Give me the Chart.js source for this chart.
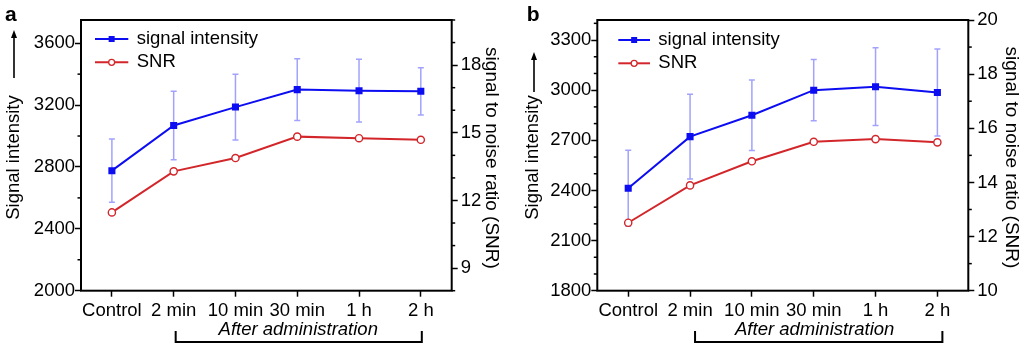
<!DOCTYPE html>
<html><head><meta charset="utf-8">
<script src="https://cdn.jsdelivr.net/npm/chart.js@4.4.0/dist/chart.umd.min.js"></script>
<style>
html,body{margin:0;padding:0;background:#fff;width:1024px;height:348px;overflow:hidden}
.p{position:absolute;top:0;width:512px;height:348px}
canvas{display:block}
</style></head><body>
<div class="p" style="left:0"><canvas id="ca" width="512" height="348"></canvas></div>
<div class="p" style="left:512px"><canvas id="cb" width="512" height="348"></canvas></div>
<script>
// ---- data ----
const categories = ['Control', '2 min', '10 min', '30 min', '1 h', '2 h'];
const aSignal    = [2776, 3068, 3187, 3300, 3293, 3289];
const aSignalErr = [205, 222, 212, 200, 203, 153];
const aSNR       = [11.47, 13.29, 13.88, 14.83, 14.76, 14.69];
const bSignal    = [2413, 2722, 2850, 3000, 3021, 2986];
const bSignalErr = [227, 253, 211, 183, 233, 260];
const bSNR       = [12.51, 13.89, 14.78, 15.50, 15.60, 15.48];
const legendLabels = ['signal intensity', 'SNR'];
const leftTitle = 'Signal intensity';
const rightTitle = 'signal to noise ratio (SNR)';
const groupTitle = 'After administration';

const FONT = "'Liberation Sans', Arial, Helvetica, sans-serif";
const FS = 18.5;
const BLUE = '#0d0df2';
const RED = '#d3262b';
const ERR = 'rgba(85,85,250,0.55)';

const panelPlugin = {
  id: 'panel',
  beforeDatasetsDraw(chart, args, o) {
    const ctx = chart.ctx, ys = chart.scales.y, meta = chart.getDatasetMeta(0);
    ctx.save();
    ctx.strokeStyle = ERR; ctx.lineWidth = 1.5;
    o.err.forEach((e, i) => {
      const v = o.sig[i], x = meta.data[i].x;
      const y1 = ys.getPixelForValue(v + e), y2 = ys.getPixelForValue(v - e);
      ctx.beginPath();
      ctx.moveTo(x, y1); ctx.lineTo(x, y2);
      ctx.moveTo(x - 3, y1); ctx.lineTo(x + 3, y1);
      ctx.moveTo(x - 3, y2); ctx.lineTo(x + 3, y2);
      ctx.stroke();
    });
    ctx.restore();
  },
  afterDraw(chart, args, o) {
    const ctx = chart.ctx, a = chart.chartArea;
    ctx.save();
    // frame
    ctx.strokeStyle = '#000'; ctx.lineWidth = 2;
    ctx.strokeRect(a.left, a.top, a.right - a.left, a.bottom - a.top);
    // minor ticks
    ctx.lineWidth = 1.5;
    const ly = chart.scales.y, ry = chart.scales.y1;
    ly.ticks.forEach(t => {
      if (t.value % o.lMajor !== 0) {
        const y = ly.getPixelForValue(t.value);
        ctx.beginPath(); ctx.moveTo(a.left - 3.5, y); ctx.lineTo(a.left, y); ctx.stroke();
      }
    });
    ry.ticks.forEach(t => {
      if (t.value % o.rMajor !== 0) {
        const y = ry.getPixelForValue(t.value);
        ctx.beginPath(); ctx.moveTo(a.right, y); ctx.lineTo(a.right + 3.5, y); ctx.stroke();
      }
    });
    // panel letter
    ctx.fillStyle = '#000';
    ctx.font = 'bold 21px ' + FONT;
    ctx.textAlign = 'left'; ctx.textBaseline = 'alphabetic';
    ctx.fillText(o.letter, o.letterX, 21);
    // left title
    ctx.font = FS + 'px ' + FONT;
    ctx.save();
    ctx.translate(o.ltX, o.ltY); ctx.rotate(-Math.PI / 2);
    ctx.textAlign = 'center'; ctx.textBaseline = 'middle';
    ctx.fillText(leftTitle, 0, 0);
    ctx.restore();
    // arrow
    ctx.lineWidth = 1.6;
    ctx.beginPath(); ctx.moveTo(o.arX, o.arBottom); ctx.lineTo(o.arX, o.arTip + 6); ctx.stroke();
    ctx.beginPath(); ctx.moveTo(o.arX, o.arTip); ctx.lineTo(o.arX - 3, o.arTip + 8); ctx.lineTo(o.arX + 3, o.arTip + 8); ctx.closePath(); ctx.fill();
    // right title
    ctx.save();
    ctx.font = '19px ' + FONT;
    ctx.translate(o.rtX, o.rtY); ctx.rotate(Math.PI / 2);
    ctx.textAlign = 'center'; ctx.textBaseline = 'middle';
    ctx.fillText(rightTitle, 0, 0);
    ctx.restore();
    // legend
    const lx0 = a.left + o.legLine0, lx1 = a.left + o.legLine1, mx = (lx0 + lx1) / 2, tx = a.left + o.legText;
    const rows = [o.legY, o.legY + 23.3];
    ctx.textAlign = 'left'; ctx.textBaseline = 'middle';
    ctx.strokeStyle = BLUE; ctx.lineWidth = 2;
    ctx.beginPath(); ctx.moveTo(lx0, rows[0]); ctx.lineTo(lx1, rows[0]); ctx.stroke();
    ctx.fillStyle = BLUE; ctx.fillRect(mx - 3, rows[0] - 3, 6, 6);
    ctx.fillStyle = '#000'; ctx.fillText(legendLabels[0], tx, rows[0]);
    ctx.strokeStyle = RED;
    ctx.beginPath(); ctx.moveTo(lx0, rows[1]); ctx.lineTo(lx1, rows[1]); ctx.stroke();
    ctx.fillStyle = '#fff'; ctx.lineWidth = 1.3;
    ctx.beginPath(); ctx.arc(mx, rows[1], 3, 0, Math.PI * 2); ctx.fill(); ctx.stroke();
    ctx.fillStyle = '#000'; ctx.fillText(legendLabels[1], tx, rows[1]);
    // bracket
    const meta = chart.getDatasetMeta(0);
    const bx0 = meta.data[1].x + o.brk0, bx1 = meta.data[5].x + o.brk1;
    ctx.strokeStyle = '#000'; ctx.lineWidth = 2;
    ctx.beginPath();
    ctx.moveTo(bx0, 331); ctx.lineTo(bx0, 342); ctx.lineTo(bx1, 342); ctx.lineTo(bx1, 331);
    ctx.stroke();
    ctx.font = 'italic ' + FS + 'px ' + FONT;
    ctx.textAlign = 'center'; ctx.textBaseline = 'alphabetic';
    ctx.fillText(groupTitle, (meta.data[1].x + meta.data[5].x) / 2 + 1, 335);
    ctx.restore();
  }
};

function yScale(pos, min, max, step, major, width, pad) {
  return {
    type: 'linear', position: pos, min: min, max: max,
    afterFit: s => { s.width = width; },
    border: { display: false },
    grid: {
      drawOnChartArea: false, drawTicks: true, tickLength: 6,
      tickWidth: 1.5,
      tickColor: c => (c.tick && c.tick.value % major === 0) ? '#000' : 'rgba(0,0,0,0)'
    },
    ticks: {
      stepSize: step, includeBounds: false, autoSkip: false, padding: pad,
      color: '#000', font: { family: FONT, size: FS },
      callback: v => (v % major === 0 ? String(v) : '')
    }
  };
}

function makePanel(id, sig, err, snr, opt) {
  new Chart(document.getElementById(id), {
    type: 'line',
    data: {
      labels: categories,
      datasets: [
        { label: legendLabels[0], data: sig, yAxisID: 'y', borderColor: BLUE, backgroundColor: BLUE,
          borderWidth: 2, pointStyle: 'rect', pointRadius: 5, pointBorderWidth: 0, tension: 0 },
        { label: legendLabels[1], data: snr, yAxisID: 'y1', borderColor: RED, backgroundColor: '#fff',
          borderWidth: 2, pointStyle: 'circle', pointRadius: 3.6, pointBorderWidth: 1.4, tension: 0 }
      ]
    },
    options: {
      responsive: false, animation: false, devicePixelRatio: 1,
      layout: { padding: { top: 20, left: 0, right: 0, bottom: 0 } },
      plugins: { legend: { display: false }, tooltip: { enabled: false },
        panel: Object.assign({ sig: sig, err: err }, opt.plug) },
      scales: {
        x: {
          type: 'category', offset: true,
          afterFit: s => { s.height = 57.3; },
          border: { display: false },
          grid: { offset: false, drawOnChartArea: false, drawTicks: true, tickLength: 6, tickWidth: 1.5, tickColor: '#000' },
          ticks: { autoSkip: false, maxRotation: 0, padding: 3, color: '#000', font: { family: FONT, size: FS } }
        },
        y: yScale('left', opt.lMin, opt.lMax, opt.lStep, opt.plug.lMajor, opt.lW, 0),
        y1: yScale('right', opt.rMin, opt.rMax, 1, opt.plug.rMajor, opt.rW, 3)
      }
    },
    plugins: [panelPlugin]
  });
}

makePanel('ca', aSignal, aSignalErr, aSNR, {
  lMin: 2000, lMax: 3750, lStep: 200, lW: 81,
  rMin: 8, rMax: 20, rW: 60.3,
  plug: { lMajor: 400, rMajor: 3, letter: 'a', letterX: 5,
    ltX: 14, ltY: 157.5, arX: 14, arTip: 30, arBottom: 78,
    rtX: 491.7, rtY: 158,
    legLine0: 14, legLine1: 47.3, legText: 55.7, legY: 39,
    brk0: 2, brk1: 1 }
});
makePanel('cb', bSignal, bSignalErr, bSNR, {
  lMin: 1800, lMax: 3420, lStep: 100, lW: 85.3,
  rMin: 10, rMax: 20, rW: 55.7,
  plug: { lMajor: 300, rMajor: 2, letter: 'b', letterX: 14.7,
    ltX: 21, ltY: 157.5, arX: 22, arTip: 52, arBottom: 92,
    rtX: 499.7, rtY: 157.5,
    legLine0: 21, legLine1: 52.7, legText: 61, legY: 40,
    brk0: 5, brk1: 5 }
});
</script>
</body></html>
